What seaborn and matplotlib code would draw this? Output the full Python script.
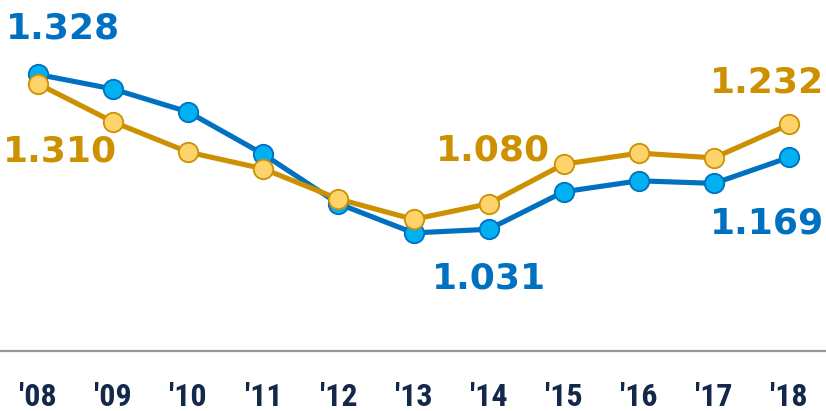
import matplotlib
matplotlib.use("Agg")
import matplotlib.pyplot as plt
from matplotlib import font_manager
import seaborn as sns
import pandas as pd

years = ["'08", "'09", "'10", "'11", "'12", "'13", "'14", "'15", "'16", "'17", "'18"]
blue_values = [1.328, 1.300, 1.256, 1.175, 1.080, 1.024, 1.031, 1.103, 1.124, 1.119, 1.169]
gold_values = [1.310, 1.237, 1.179, 1.147, 1.089, 1.050, 1.080, 1.156, 1.177, 1.168, 1.232]

BLUE_LINE = "#0070c0"
BLUE_FACE = "#00b0f0"
GOLD_LINE = "#cc9000"
GOLD_FACE = "#ffd36b"
NAVY = "#14284b"

sns.set_theme(style="white")
plt.rcParams['font.family'] = ['DejaVu Sans']

def pick_font():
    for fam in ["Liberation Sans Narrow", "Roboto Condensed", "Open Sans Condensed"]:
        try:
            font_manager.findfont(font_manager.FontProperties(family=fam, weight="bold"),
                                  fallback_to_default=False)
            return fam, False
        except Exception:
            pass
    return "DejaVu Sans", True

tick_family, use_stretch = pick_font()

df_blue = pd.DataFrame({"x": range(len(years)), "v": blue_values})
df_gold = pd.DataFrame({"x": range(len(years)), "v": gold_values})

fig = plt.figure(figsize=(8.26, 4.11), dpi=100)
ax = fig.add_axes([0, 60 / 411, 1, 351 / 411])

sns.lineplot(data=df_blue, x="x", y="v", ax=ax, color=BLUE_LINE, linewidth=3.7,
             marker="o", markersize=14, markerfacecolor=BLUE_FACE,
             markeredgecolor=BLUE_LINE, markeredgewidth=1.3, zorder=3)
sns.lineplot(data=df_gold, x="x", y="v", ax=ax, color=GOLD_LINE, linewidth=3.7,
             marker="o", markersize=14, markerfacecolor=GOLD_FACE,
             markeredgecolor=GOLD_LINE, markeredgewidth=1.3, zorder=4)

ax.set_xlim(-0.506, 10.49)
ax.set_ylim(0.7975, 1.4708)
ax.set_xticks(range(len(years)))
ax.set_xticklabels(years)
ax.set_yticks([])
ax.set_xlabel("")
ax.set_ylabel("")
for s in ["top", "left", "right"]:
    ax.spines[s].set_visible(False)
ax.spines["bottom"].set_color("#999999")
ax.spines["bottom"].set_linewidth(1.6)
ax.tick_params(axis="x", length=0, pad=22)
for lbl in ax.get_xticklabels():
    lbl.set_fontfamily([tick_family, "DejaVu Sans"])
    lbl.set_fontweight("bold")
    lbl.set_fontsize(23 if not use_stretch else 20)
    if use_stretch:
        lbl.set_fontstretch("condensed")
    lbl.set_color(NAVY)

def label(i, vals, text_color, dx, dy):
    ax.annotate(f"{vals[i]:.3f}", xy=(i, vals[i]), xytext=(dx, dy),
                textcoords="offset pixels", ha="center", va="center",
                fontsize=26, fontweight="bold", color=text_color, zorder=5)

label(0, blue_values, BLUE_LINE, 25, 46)
label(0, gold_values, GOLD_LINE, 22, -68)
label(6, gold_values, GOLD_LINE, 4, 53)
label(6, blue_values, BLUE_LINE, 0, -49)
label(10, gold_values, GOLD_LINE, -22, 42)
label(10, blue_values, BLUE_LINE, -22, -66)

fig.savefig("out.png", dpi=100)
